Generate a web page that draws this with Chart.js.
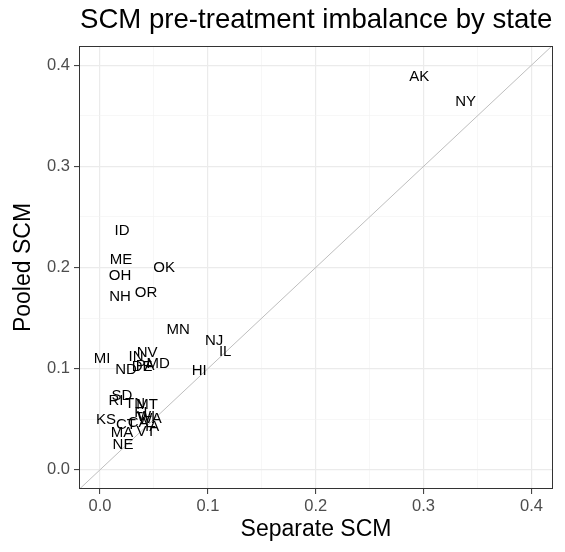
<!DOCTYPE html>
<html>
<head>
<meta charset="utf-8">
<script src="https://cdn.jsdelivr.net/npm/chart.js@4"></script>
<style>
  html, body { margin: 0; padding: 0; background: #ffffff; }
  #wrap { width: 565px; height: 552px; }
</style>
</head>
<body>
<div id="wrap"><canvas id="chart" width="565" height="552"></canvas></div>
<script>
// state labels and imbalance values
var states = ["AK", "NY", "ID", "ME", "OH", "NH", "OK", "OR", "MN", "NJ", "IL", "HI",
    "MI", "NV", "IN", "ND", "DE", "PA", "MD", "SD", "RI", "TN", "MT", "FL", "WI",
    "WA", "IA", "CA", "VT", "KS", "CT", "MA", "NE"];
var separateScm = [0.296, 0.339, 0.0204, 0.0195, 0.0186, 0.0186, 0.0594, 0.0427, 0.0724, 0.1058, 0.116, 0.0919,
    0.0019, 0.0436, 0.0334, 0.0241, 0.039, 0.0418, 0.0538, 0.0204, 0.0148, 0.0325, 0.0436, 0.0399, 0.0427,
    0.0464, 0.0483, 0.0353, 0.0427, 0.0056, 0.0241, 0.0204, 0.0213];
var pooledScm = [0.388, 0.364, 0.236, 0.208, 0.192, 0.171, 0.200, 0.175, 0.138, 0.127, 0.1165, 0.0978,
    0.1096, 0.1156, 0.1116, 0.0988, 0.1017, 0.1027, 0.1047, 0.0731, 0.0681, 0.0652, 0.0642, 0.0563, 0.0523,
    0.0504, 0.0425, 0.0464, 0.0375, 0.0494, 0.0444, 0.0365, 0.0247];
var gridTicks = [0, 0.05, 0.1, 0.15, 0.2, 0.25, 0.3, 0.35, 0.4];

var points = states.map(function (s, i) {
    return { x: separateScm[i], y: pooledScm[i], label: s };
});

function isMajor(v) {
    return Math.abs(v * 10 - Math.round(v * 10)) < 1e-6;
}

function setTicks(scale) {
    scale.ticks = gridTicks.map(function (v) { return { value: v }; });
}

// labels for each point, placed with the scales
var labelPlugin = {
    id: "stateLabels",
    afterDatasetsDraw: function (chart) {
        var ctx = chart.ctx;
        var meta = chart.getDatasetMeta(1);
        ctx.save();
        ctx.font = "15px 'Liberation Sans', Arial, sans-serif";
        ctx.fillStyle = "#000000";
        ctx.textAlign = "center";
        ctx.textBaseline = "middle";
        meta.data.forEach(function (el, i) {
            ctx.fillText(points[i].label, el.x, el.y);
        });
        ctx.restore();
    },
    afterDraw: function (chart) {
        var ctx = chart.ctx;
        var a = chart.chartArea;
        ctx.save();
        // panel border
        ctx.strokeStyle = "#333333";
        ctx.lineWidth = 1;
        ctx.strokeRect(a.left + 0.5, a.top + 0.5, a.right - a.left - 1, a.bottom - a.top - 1);
        // title
        ctx.font = "27.6px 'Liberation Sans', Arial, sans-serif";
        ctx.fillStyle = "#000000";
        ctx.textAlign = "left";
        ctx.textBaseline = "alphabetic";
        ctx.fillText("SCM pre-treatment imbalance by state", a.left + 1, 28);
        ctx.restore();
    }
};

var axisFont = { family: "'Liberation Sans', Arial, sans-serif", size: 16.5 };
var titleFont = { family: "'Liberation Sans', Arial, sans-serif", size: 23 };

new Chart(document.getElementById("chart"), {
    type: "scatter",
    data: {
        datasets: [{
            type: "line",
            data: [{ x: -0.02, y: -0.02 }, { x: 0.42, y: 0.42 }],
            borderColor: "#bebebe",
            borderWidth: 1,
            pointRadius: 0,
            fill: false
        }, {
            data: points,
            pointRadius: 0,
            pointHoverRadius: 0
        }]
    },
    options: {
        responsive: false,
        animation: false,
        layout: { padding: { top: 46, right: 12, left: 0, bottom: 0 } },
        plugins: {
            legend: { display: false },
            tooltip: { enabled: false },
            title: { display: false }
        },
        scales: {
            x: {
                type: "linear",
                min: -0.0195,
                max: 0.42,
                afterBuildTicks: setTicks,
                afterFit: function (scale) { scale.height = 63; },
                border: { display: false },
                grid: {
                    color: function (c) { return isMajor(c.tick.value) ? "#ebebeb" : "#f2f2f2"; },
                    lineWidth: function (c) { return isMajor(c.tick.value) ? 1.2 : 0.6; },
                    tickColor: function (c) { return isMajor(c.tick.value) ? "#333333" : "rgba(0,0,0,0)"; },
                    tickLength: 5,
                    tickWidth: 1
                },
                ticks: {
                    color: "#4d4d4d",
                    font: axisFont,
                    padding: 3,
                    maxRotation: 0,
                    autoSkip: false,
                    callback: function (v) { return isMajor(v) ? v.toFixed(1) : ""; }
                },
                title: {
                    display: true,
                    text: "Separate SCM",
                    color: "#000000",
                    font: titleFont,
                    padding: { top: 0, bottom: 9 }
                }
            },
            y: {
                type: "linear",
                min: -0.019,
                max: 0.419,
                afterBuildTicks: setTicks,
                afterFit: function (scale) { scale.width = 79; },
                border: { display: false },
                grid: {
                    color: function (c) { return isMajor(c.tick.value) ? "#ebebeb" : "#f2f2f2"; },
                    lineWidth: function (c) { return isMajor(c.tick.value) ? 1.2 : 0.6; },
                    tickColor: function (c) { return isMajor(c.tick.value) ? "#333333" : "rgba(0,0,0,0)"; },
                    tickLength: 5,
                    tickWidth: 1
                },
                ticks: {
                    color: "#4d4d4d",
                    font: axisFont,
                    padding: 4,
                    autoSkip: false,
                    callback: function (v) { return isMajor(v) ? v.toFixed(1) : ""; }
                },
                title: {
                    display: true,
                    text: "Pooled SCM",
                    color: "#000000",
                    font: titleFont,
                    padding: { top: 10, bottom: 0 }
                }
            }
        }
    },
    plugins: [labelPlugin]
});
</script>
</body>
</html>
